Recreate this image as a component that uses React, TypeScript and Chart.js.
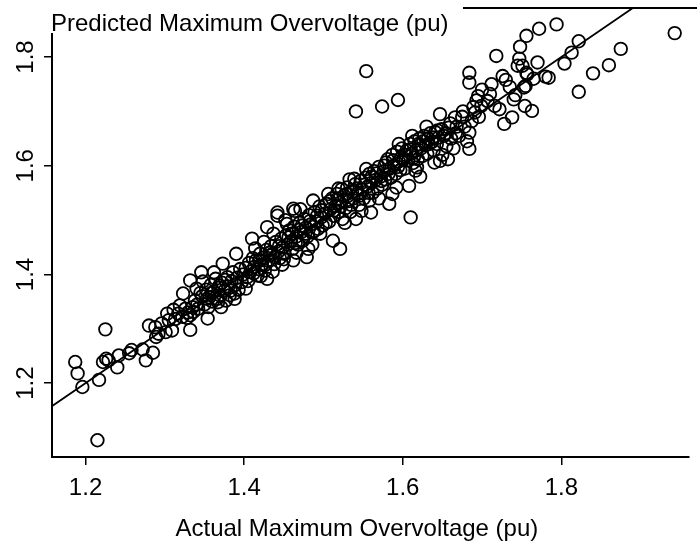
import { useEffect, useRef } from "react";
import { Chart, registerables } from "chart.js";

Chart.register(...registerables);

// Actual maximum overvoltage (x)
const actualValues = [
  1.187, 1.190, 1.196, 1.217, 1.215, 1.225, 1.222, 1.226, 1.229, 1.240,
  1.242, 1.255, 1.258, 1.272, 1.276, 1.285, 1.280, 1.288, 1.292, 1.289,
  1.296, 1.301, 1.303, 1.305, 1.317, 1.319, 1.332, 1.332, 1.323, 1.309,
  1.354, 1.346, 1.332, 1.373, 1.388, 1.371, 1.402, 1.390, 1.338, 1.342,
  1.345, 1.350, 1.352, 1.356, 1.358, 1.360, 1.362, 1.364, 1.366, 1.368,
  1.370, 1.372, 1.375, 1.377, 1.379, 1.380, 1.382, 1.384, 1.386, 1.389,
  1.391, 1.393, 1.395, 1.397, 1.399, 1.340, 1.348, 1.336, 1.326, 1.328,
  1.313, 1.311, 1.355, 1.362, 1.417, 1.429, 1.410, 1.429, 1.442, 1.462,
  1.479, 1.487, 1.462, 1.433, 1.464, 1.442, 1.454, 1.496, 1.487, 1.402,
  1.404, 1.406, 1.408, 1.411, 1.413, 1.415, 1.418, 1.420, 1.422, 1.424,
  1.426, 1.428, 1.431, 1.434, 1.436, 1.438, 1.440, 1.443, 1.445, 1.447,
  1.449, 1.451, 1.453, 1.455, 1.457, 1.459, 1.461, 1.463, 1.466, 1.468,
  1.470, 1.472, 1.474, 1.476, 1.478, 1.480, 1.482, 1.484, 1.486, 1.489,
  1.491, 1.493, 1.495, 1.497, 1.499, 1.414, 1.421, 1.436, 1.448, 1.466,
  1.471, 1.452, 1.437, 1.425, 1.481, 1.506, 1.523, 1.539, 1.554, 1.541,
  1.560, 1.583, 1.587, 1.579, 1.595, 1.512, 1.521, 1.558, 1.502, 1.504,
  1.507, 1.509, 1.511, 1.513, 1.515, 1.517, 1.519, 1.521, 1.524, 1.526,
  1.528, 1.530, 1.532, 1.534, 1.536, 1.538, 1.540, 1.543, 1.545, 1.547,
  1.549, 1.551, 1.553, 1.556, 1.558, 1.560, 1.562, 1.564, 1.566, 1.568,
  1.570, 1.572, 1.574, 1.576, 1.578, 1.581, 1.583, 1.585, 1.587, 1.589,
  1.591, 1.593, 1.595, 1.597, 1.599, 1.527, 1.548, 1.570, 1.592, 1.533,
  1.519, 1.608, 1.616, 1.647, 1.612, 1.633, 1.645, 1.618, 1.684, 1.684,
  1.647, 1.666, 1.649, 1.691, 1.699, 1.610, 1.601, 1.603, 1.605, 1.607,
  1.609, 1.611, 1.613, 1.615, 1.617, 1.619, 1.621, 1.623, 1.625, 1.627,
  1.629, 1.631, 1.635, 1.637, 1.639, 1.641, 1.643, 1.650, 1.652, 1.655,
  1.658, 1.661, 1.664, 1.668, 1.671, 1.675, 1.678, 1.681, 1.687, 1.693,
  1.696, 1.622, 1.640, 1.630, 1.657, 1.554, 1.574, 1.594, 1.541, 1.684,
  1.684, 1.726, 1.745, 1.757, 1.728, 1.738, 1.763, 1.695, 1.707, 1.716,
  1.753, 1.943, 1.875, 1.860, 1.840, 1.822, 1.822, 1.813, 1.804, 1.784,
  1.780, 1.794, 1.772, 1.756, 1.748, 1.747, 1.751, 1.770, 1.756, 1.755,
  1.718, 1.754, 1.722, 1.740, 1.710, 1.700, 1.712, 1.735, 1.742, 1.765,
  1.730, 1.367, 1.388,
  1.405, 1.412, 1.419, 1.427, 1.432, 1.439, 1.444, 1.450, 1.456, 1.460,
  1.465, 1.469, 1.473, 1.477, 1.483, 1.488, 1.492, 1.498, 1.503, 1.508,
  1.514, 1.518, 1.522, 1.529, 1.535, 1.542, 1.546, 1.552, 1.557, 1.561,
  1.567, 1.573, 1.577, 1.582, 1.588, 1.594, 1.598, 1.604, 1.610, 1.614,
  1.620, 1.626, 1.632, 1.638, 1.644, 1.654, 1.660, 1.667, 1.676, 1.689,
  1.383, 1.376, 1.369, 1.359, 1.353, 1.347, 1.341, 1.335, 1.329, 1.322,
];

// Predicted maximum overvoltage (y) — same order as actualValues
const predictedValues = [
  1.239, 1.218, 1.193, 1.206, 1.095, 1.299, 1.239, 1.245, 1.242, 1.229,
  1.251, 1.255, 1.261, 1.262, 1.242, 1.256, 1.306, 1.303, 1.291, 1.285,
  1.310, 1.294, 1.328, 1.316, 1.328, 1.343, 1.298, 1.325, 1.365, 1.297,
  1.319, 1.404, 1.389, 1.420, 1.365, 1.340, 1.374, 1.438, 1.352, 1.337,
  1.366, 1.345, 1.372, 1.358, 1.381, 1.350, 1.368, 1.392, 1.355, 1.376,
  1.361, 1.385, 1.370, 1.352, 1.395, 1.378, 1.362, 1.388, 1.404, 1.381,
  1.394, 1.372, 1.410, 1.386, 1.400, 1.374, 1.387, 1.331, 1.337, 1.320,
  1.318, 1.335, 1.340, 1.404, 1.398, 1.392, 1.466, 1.487, 1.508, 1.426,
  1.432, 1.478, 1.521, 1.435, 1.517, 1.514, 1.493, 1.475, 1.536, 1.412,
  1.395, 1.421, 1.405, 1.430, 1.414, 1.426, 1.410, 1.438, 1.418, 1.431,
  1.407, 1.445, 1.425, 1.452, 1.438, 1.419, 1.460, 1.442, 1.430, 1.466,
  1.450, 1.438, 1.472, 1.455, 1.481, 1.461, 1.447, 1.488, 1.470, 1.455,
  1.495, 1.478, 1.462, 1.502, 1.486, 1.470, 1.509, 1.492, 1.455, 1.515,
  1.497, 1.484, 1.525, 1.505, 1.490, 1.448, 1.397, 1.405, 1.418, 1.440,
  1.520, 1.500, 1.475, 1.460, 1.447, 1.548, 1.557, 1.576, 1.594, 1.502,
  1.514, 1.530, 1.548, 1.606, 1.640, 1.462, 1.447, 1.536, 1.512, 1.530,
  1.497, 1.520, 1.540, 1.508, 1.526, 1.548, 1.515, 1.532, 1.502, 1.545,
  1.522, 1.560, 1.535, 1.515, 1.552, 1.540, 1.566, 1.548, 1.528, 1.572,
  1.556, 1.540, 1.578, 1.562, 1.585, 1.568, 1.550, 1.590, 1.574, 1.558,
  1.598, 1.580, 1.565, 1.590, 1.575, 1.612, 1.594, 1.578, 1.620, 1.600,
  1.585, 1.626, 1.608, 1.592, 1.632, 1.495, 1.517, 1.540, 1.560, 1.575,
  1.558, 1.563, 1.591, 1.609, 1.655, 1.640, 1.652, 1.597, 1.661, 1.631,
  1.695, 1.689, 1.667, 1.698, 1.710, 1.505, 1.612, 1.595, 1.628, 1.610,
  1.640, 1.622, 1.605, 1.645, 1.628, 1.612, 1.650, 1.632, 1.618, 1.655,
  1.638, 1.622, 1.660, 1.644, 1.628, 1.662, 1.640, 1.620, 1.655, 1.636,
  1.670, 1.650, 1.632, 1.672, 1.655, 1.690, 1.672, 1.645, 1.682, 1.720,
  1.690, 1.580, 1.606, 1.672, 1.612, 1.774, 1.709, 1.721, 1.700, 1.771,
  1.753, 1.765, 1.784, 1.768, 1.677, 1.689, 1.701, 1.728, 1.719, 1.710,
  1.744, 1.844, 1.815, 1.785, 1.770, 1.736, 1.829, 1.808, 1.788, 1.762,
  1.764, 1.860, 1.852, 1.839, 1.819, 1.797, 1.784, 1.790, 1.771, 1.747,
  1.802, 1.710, 1.704, 1.722, 1.732, 1.740, 1.750, 1.745, 1.730, 1.760,
  1.758, 1.349, 1.355,
  1.388, 1.402, 1.425, 1.418, 1.440, 1.432, 1.452, 1.428, 1.468, 1.475,
  1.458, 1.482, 1.490, 1.475, 1.498, 1.480, 1.508, 1.518, 1.495, 1.535,
  1.518, 1.540, 1.525, 1.548, 1.528, 1.558, 1.545, 1.565, 1.550, 1.580,
  1.586, 1.572, 1.600, 1.585, 1.610, 1.598, 1.615, 1.620, 1.630, 1.615,
  1.640, 1.645, 1.650, 1.652, 1.665, 1.660, 1.678, 1.660, 1.700, 1.708,
  1.370, 1.390, 1.380, 1.366, 1.355, 1.360, 1.345, 1.340, 1.330, 1.322,
];

const xTickValues = [1.2, 1.4, 1.6, 1.8];
const xTickLabels = ["1.2", "1.4", "1.6", "1.8"];
const yTickValues = [1.2, 1.4, 1.6, 1.8];
const yTickLabels = ["1.2", "1.4", "1.6", "1.8"];
const xRange = [1.1577, 1.9609];
const yRange = [1.0642, 1.89];
const identityLineEnds = [1.1, 2.0];
const titleText = "Predicted Maximum Overvoltage (pu)";
const xAxisTitle = "Actual Maximum Overvoltage (pu)";

const FONT = '24px "Liberation Sans", Arial, sans-serif';

const overlayPlugin = {
  id: "overlayText",
  afterDraw(chart: any) {
    const ctx = chart.ctx as CanvasRenderingContext2D;
    const xs = chart.scales.x;
    const ys = chart.scales.y;
    const area = chart.chartArea;
    ctx.save();
    // top frame line
    ctx.strokeStyle = "#000";
    ctx.lineWidth = 2;
    ctx.beginPath();
    ctx.moveTo(0, area.top);
    ctx.lineTo(chart.width, area.top);
    ctx.stroke();
    // title box
    ctx.fillStyle = "#fff";
    ctx.fillRect(0, 0, 463, 33);
    ctx.fillStyle = "#000";
    ctx.font = FONT;
    ctx.textAlign = "left";
    ctx.textBaseline = "alphabetic";
    ctx.fillText(titleText, 51, 31);
    // x tick labels
    ctx.textAlign = "center";
    xTickValues.forEach((v, i) => {
      ctx.fillText(xTickLabels[i], xs.getPixelForValue(v), 495);
    });
    // y tick labels (rotated)
    yTickValues.forEach((v, i) => {
      ctx.save();
      ctx.translate(33, ys.getPixelForValue(v));
      ctx.rotate(-Math.PI / 2);
      ctx.textAlign = "center";
      ctx.fillText(yTickLabels[i], 0, 0);
      ctx.restore();
    });
    // x axis title
    ctx.textAlign = "left";
    ctx.fillText(xAxisTitle, 175.5, 536);
    ctx.restore();
  },
};

export default function App() {
  const ref = useRef<HTMLCanvasElement>(null);
  useEffect(() => {
    const canvas = ref.current;
    if (!canvas) return;
    const chart = new Chart(canvas, {
      type: "scatter",
      data: {
        datasets: [
          {
            label: "identity",
            data: identityLineEnds.map((v) => ({ x: v, y: v })),
            showLine: true,
            borderColor: "#000",
            borderWidth: 1.8,
            pointRadius: 0,
            fill: false,
            order: 1,
          },
          {
            label: "samples",
            data: actualValues.map((x, i) => ({ x, y: predictedValues[i] })),
            showLine: false,
            pointRadius: 6.3,
            pointBorderWidth: 1.8,
            pointBorderColor: "#000",
            pointBackgroundColor: "rgba(0,0,0,0)",
            order: 2,
          },
        ],
      },
      options: {
        responsive: false,
        devicePixelRatio: 1,
        animation: false,
        layout: { padding: { top: 7, left: 0, right: 0, bottom: 0 } },
        plugins: {
          legend: { display: false },
          tooltip: { enabled: false },
          title: { display: false },
        },
        scales: {
          x: {
            type: "linear",
            position: "bottom",
            min: xRange[0],
            max: xRange[1],
            afterBuildTicks: (s: any) => {
              s.ticks = xTickValues.map((v) => ({ value: v }));
            },
            afterFit: (s: any) => {
              s.height = 87;
            },
            ticks: { display: false },
            grid: {
              drawOnChartArea: false,
              drawTicks: true,
              tickLength: 8,
              color: "#000",
              lineWidth: 1.5,
            },
            border: { display: true, color: "#000", width: 2 },
          },
          y: {
            type: "linear",
            position: "left",
            min: yRange[0],
            max: yRange[1],
            afterBuildTicks: (s: any) => {
              s.ticks = yTickValues.map((v) => ({ value: v }));
            },
            afterFit: (s: any) => {
              s.width = 52;
            },
            ticks: { display: false },
            grid: {
              drawOnChartArea: false,
              drawTicks: true,
              tickLength: 8,
              color: "#000",
              lineWidth: 1.5,
            },
            border: { display: true, color: "#000", width: 2 },
          },
        },
      },
      plugins: [overlayPlugin],
    } as any);
    return () => chart.destroy();
  }, []);
  return (
    <div
      style={{
        position: "fixed",
        left: 0,
        top: 0,
        width: 697,
        height: 544,
        background: "#fff",
      }}
    >
      <canvas
        ref={ref}
        width={697}
        height={544}
        style={{ display: "block", width: 697, height: 544 }}
      />
    </div>
  );
}
